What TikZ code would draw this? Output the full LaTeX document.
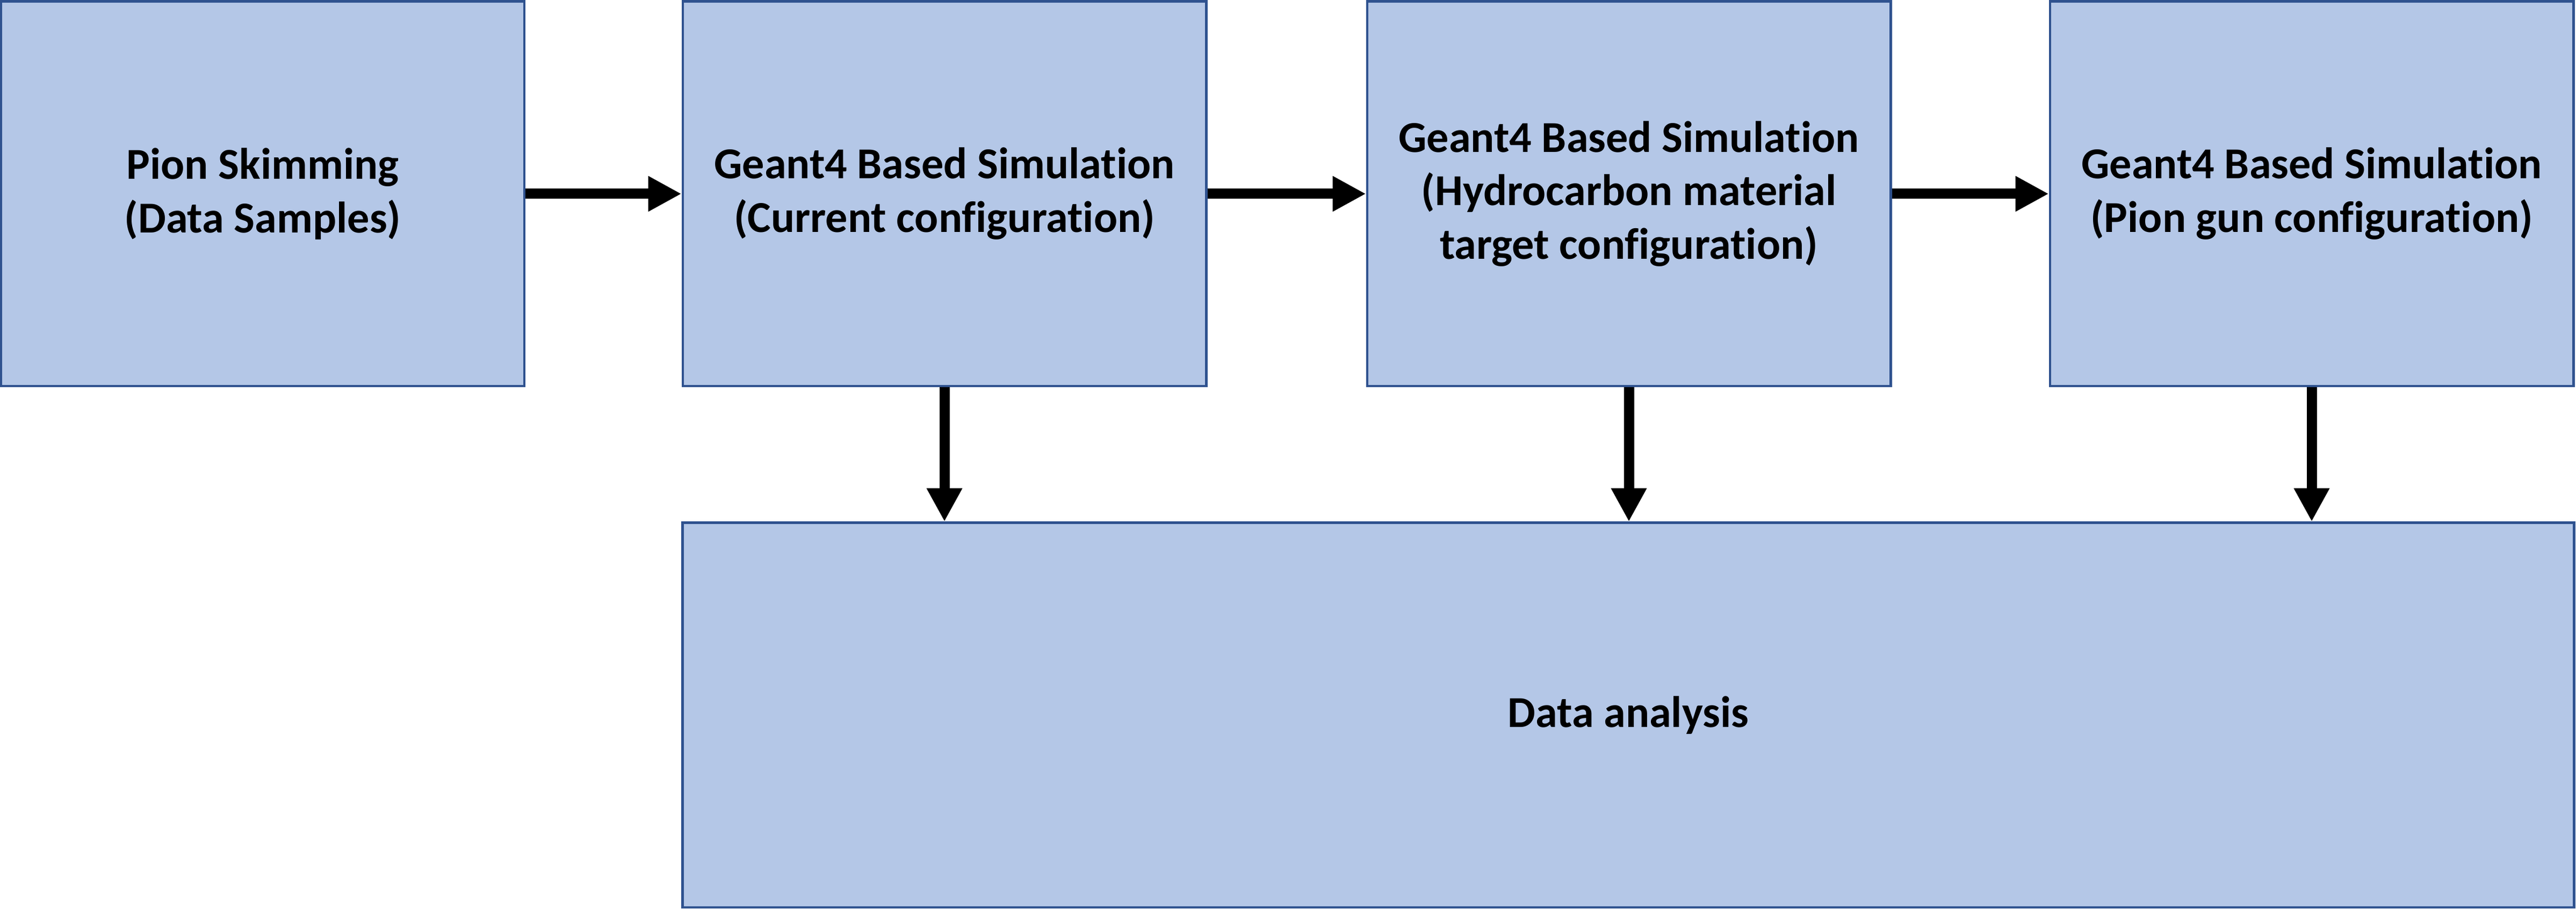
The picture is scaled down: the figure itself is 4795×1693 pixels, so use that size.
\documentclass[tikz,border=0pt]{standalone}
\usepackage{fontspec}
\setmainfont{Carlito}[Ligatures=NoCommon]
\usetikzlibrary{arrows.meta}
\definecolor{boxfill}{HTML}{B4C7E7}
\definecolor{boxline}{HTML}{2F528F}

\begin{document}
\begin{tikzpicture}[x=0.05mm,y=0.05mm,>={Triangle[length=3.1mm,width=3.1mm]},
    blk/.style={draw=boxline,fill=boxfill,line width=0.7pt,minimum width=48.7mm,
        minimum height=35.8mm,align=center,inner sep=0pt,
        font=\fontsize{11.7}{14.2}\selectfont\bfseries},
    arr/.style={->,line width=2.7pt}]
                        \useasboundingbox (0,0) rectangle (4795,1693);
                        \node[blk] (pion) at (489,1332) {Pion Skimming\\(Data Samples)};
                        \node[blk] (geantcur) at (1758,1332) {Geant4 Based Simulation\\(Current configuration)};
                        \node[blk] (geanthc) at (3032,1332) {Geant4 Based Simulation\\(Hydrocarbon material\\target configuration)};
                        \node[blk] (geantgun) at (4303,1332) {Geant4 Based Simulation\\(Pion gun configuration)};
                        \node[blk,minimum width=176mm] (ana) at (3031,361) {Data analysis};
                        \draw[arr] (pion) -- (geantcur);
                        \draw[arr] (geantcur) -- (geanthc);
                        \draw[arr] (geanthc) -- (geantgun);
                        \draw[arr] (geantcur.south) -- (geantcur.south |- ana.north);
                        \draw[arr] (geanthc.south) -- (geanthc.south |- ana.north);
                        \draw[arr] (geantgun.south) -- (geantgun.south |- ana.north);
                    \end{tikzpicture}
\end{document}
